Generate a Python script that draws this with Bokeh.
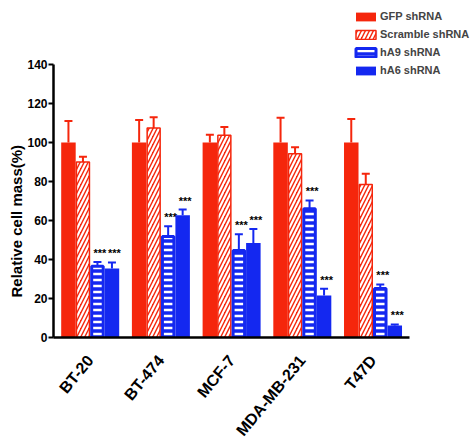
from bokeh.plotting import figure
from bokeh.models import (Range1d, FixedTicker, Legend, LegendItem, Whisker,
                          TeeHead, ColumnDataSource, Title)
from bokeh.core.properties import value
from bokeh.embed import file_html
from bokeh.resources import INLINE

# ---------------- data ----------------
cell_lines = ["BT-20", "BT-474", "MCF-7", "MDA-MB-231", "T47D"]
series_names = ["GFP shRNA", "Scramble shRNA", "hA9 shRNA", "hA6 shRNA"]
gfp = [100, 100, 100, 100, 100]
gfp_err = [11, 11.5, 4, 12.7, 12]
scramble = [90, 107.5, 103.7, 94.2, 78.5]
scramble_err = [2.7, 5.5, 4.3, 3.4, 5.5]
ha9 = [36.5, 51.8, 44.6, 66, 25.1]
ha9_err = [2.2, 5.2, 8.4, 4.3, 2.1]
ha6 = [35.4, 62.7, 48.4, 21.5, 6.2]
ha6_err = [3.1, 2.9, 7.3, 3.5, 0.5]
y_ticks = [0, 20, 40, 60, 80, 100, 120, 140]
significance = "***"

# ---------------- styling ----------------
RED = "#F5260C"
BLUE = "#1428F0"
FONT = "Liberation Sans"

# axis area: x from -0.519 .. 4.516 over 356 px, y 0..140 over 273 px
px_per_x = 356 / (4.516 + 0.519)
px_per_y = 273 / 140.0
FRAME_W, FRAME_H = 421, 329
x_start = -0.519
x_end = x_start + FRAME_W / px_per_x
y_end = FRAME_H / px_per_y
bw = 14.5 / px_per_x

p = figure(width=474, height=437, frame_width=FRAME_W, frame_height=FRAME_H,
           min_border_left=53, min_border_right=0, min_border_top=8,
           min_border_bottom=100, output_backend="svg", toolbar_location=None,
           title=None,
           x_range=Range1d(x_start, x_end), y_range=Range1d(0, y_end))
p.outline_line_color = None
p.xgrid.visible = False
p.ygrid.visible = False
p.background_fill_color = "white"

values = [gfp, scramble, ha9, ha6]
errs = [gfp_err, scramble_err, ha9_err, ha6_err]
colors = [RED, RED, BLUE, BLUE]
offsets = [-1.5, -0.5, 0.5, 1.5]

renderers = []
for k in range(4):
    xs = [i + offsets[k] * bw for i in range(len(cell_lines))]
    src = ColumnDataSource(dict(x=xs, top=values[k],
                                upper=[v + e for v, e in zip(values[k], errs[k])]))
    if k == 0:
        r = p.vbar(x="x", top="top", width=bw, bottom=0, source=src,
                   fill_color=RED, line_color=None)
    elif k == 1:
        lw = 1.5
        r = p.vbar(x="x", top="top", width=bw - lw / px_per_x, bottom=0, source=src,
                   fill_color=RED, line_color=RED, line_width=lw,
                   hatch_pattern="/", hatch_color="white", hatch_weight=2.2,
                   hatch_scale=8)
    elif k == 2:
        lw = 3
        r = p.vbar(x="x", top="top", width=bw - lw / px_per_x, bottom=0, source=src,
                   fill_color=BLUE, line_color=BLUE, line_width=lw,
                   hatch_pattern="-", hatch_color="white", hatch_weight=2.5,
                   hatch_scale=6)
    else:
        r = p.vbar(x="x", top="top", width=bw, bottom=0, source=src,
                   fill_color=BLUE, line_color=None)
    renderers.append(r)
    w = Whisker(source=src, base="x", upper="upper", lower="top",
                line_color=colors[k], line_width=2,
                upper_head=TeeHead(size=8, line_color=colors[k], line_width=2),
                lower_head=None)
    p.add_layout(w)
    if k >= 2:
        p.text(x="x", y="upper", text=value(significance), source=src,
               text_font=value(FONT), text_font_style="bold",
               text_font_size="11px", text_align="center",
               text_baseline="bottom", text_color="black",
               x_offset=2.5, y_offset=-3)

# axes
for ax in (p.xaxis[0], p.yaxis[0]):
    ax.axis_line_width = 2.5
    ax.axis_line_color = "black"
    ax.minor_tick_line_color = None
    ax.major_label_text_font = FONT
    ax.major_label_text_font_style = "bold"
    ax.major_label_text_color = "black"

p.yaxis.ticker = FixedTicker(ticks=y_ticks)
p.yaxis.bounds = (0, 140)
p.yaxis.major_tick_out = 5
p.yaxis.major_tick_in = 0
p.yaxis.major_tick_line_width = 2
p.yaxis.major_label_text_font_size = "12px"
p.yaxis.major_label_standoff = 1

p.xaxis.ticker = FixedTicker(ticks=list(range(len(cell_lines))))
p.xaxis.bounds = (x_start, 4.516)
p.xaxis.major_label_overrides = {i: c for i, c in enumerate(cell_lines)}
p.xaxis.major_tick_line_color = None
p.xaxis.major_label_orientation = 0.88
p.xaxis.major_label_text_font_size = "16px"
p.xaxis.major_label_standoff = 14

ytitle = Title(text="Relative cell mass(%)", align="left", offset=40,
               text_font=FONT, text_font_style="bold", text_font_size="15px",
               standoff=0, text_color="black")
p.add_layout(ytitle, "left")

legend = Legend(items=[LegendItem(label=n, renderers=[r])
                       for n, r in zip(series_names, renderers)],
                location=(300, 260), glyph_width=25, glyph_height=11,
                label_height=14, spacing=4, padding=0, margin=0,
                border_line_color=None, background_fill_alpha=0,
                label_text_font=FONT, label_text_font_style="bold",
                label_text_font_size="11px", label_standoff=2)
p.add_layout(legend)

open("out.html", "w").write(file_html(p, INLINE))
